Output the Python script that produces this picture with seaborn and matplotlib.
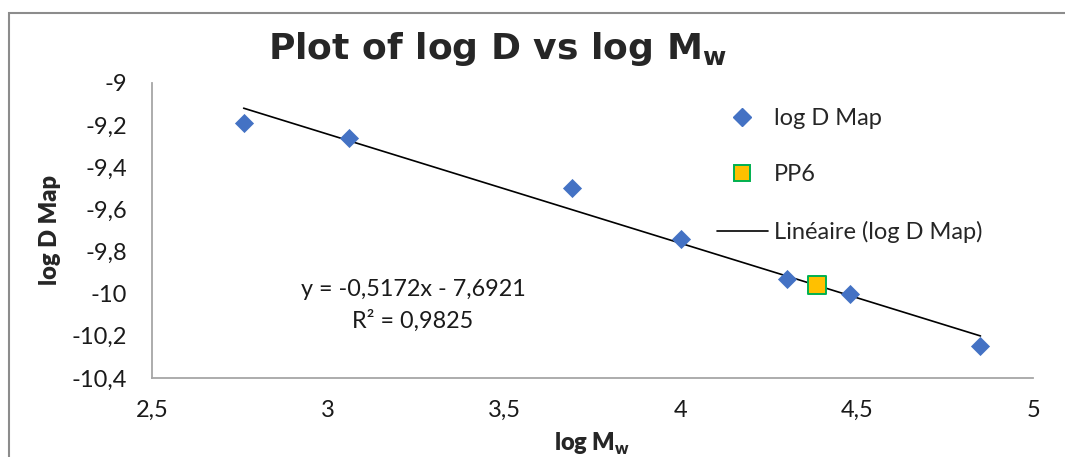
import matplotlib
matplotlib.use("Agg")
import matplotlib.pyplot as plt
from matplotlib.patches import Rectangle
from matplotlib.lines import Line2D
import numpy as np
import pandas as pd
import seaborn as sns

# Measured diffusion data
log_mw = [2.76, 3.06, 3.69, 4.00, 4.30, 4.48, 4.85]
log_d_map = [-9.19, -9.26, -9.50, -9.74, -9.93, -10.00, -10.25]
pp6_x = [4.385]
pp6_y = [-9.96]

# Linear trend (Excel fit)
slope = -0.5172
intercept = -7.6921
r2 = 0.9825

x_ticks = [2.5, 3.0, 3.5, 4.0, 4.5, 5.0]
y_ticks = [-10.4, -10.2, -10.0, -9.8, -9.6, -9.4, -9.2, -9.0]

sns.set_theme(style="white")
plt.rcParams["font.family"] = ["Lato", "DejaVu Sans"]

fig = plt.figure(figsize=(10.65, 4.57), dpi=100)
ax = fig.add_axes([0.1427, 0.1729, 0.8276, 0.6455])

# chart frame
fig.patches.append(Rectangle((9 / 1065, -0.1), 1.2, 1 - 13 / 457 + 0.1,
                             transform=fig.transFigure, fill=False,
                             edgecolor="#8c8c8c", linewidth=1.5, zorder=0))

blue = "#4472C4"
df = pd.DataFrame({"x": log_mw, "y": log_d_map})
trend_x = np.array([min(log_mw), max(log_mw)])
trend = pd.DataFrame({"x": trend_x, "y": slope * trend_x + intercept})

sns.lineplot(data=trend, x="x", y="y", ax=ax, color="black", linewidth=1.2, zorder=2)
sns.scatterplot(data=df, x="x", y="y", ax=ax, marker="D", s=95, color=blue,
                edgecolor=blue, linewidth=0, zorder=3)
sns.scatterplot(x=pp6_x, y=pp6_y, ax=ax, marker="s", s=150, color="#FFC000",
                edgecolor="#00B050", linewidth=1.4, zorder=4)

ax.set_xlim(2.5, 5.0)
ax.set_ylim(-10.4, -9.0)
ax.set_xticks(x_ticks)
ax.set_yticks(y_ticks)


def comma(v):
    s = f"{v:g}"
    return s.replace(".", ",")


ax.set_xticklabels([comma(v) for v in x_ticks], fontsize=17, color="#1a1a1a")
ax.set_yticklabels([comma(v) for v in y_ticks], fontsize=17, color="#1a1a1a")
ax.tick_params(axis="both", length=0)
ax.tick_params(axis="x", pad=16)
ax.tick_params(axis="y", pad=18)

for side in ["top", "right"]:
    ax.spines[side].set_visible(False)
for side in ["left", "bottom"]:
    ax.spines[side].set_color("#a6a6a6")
    ax.spines[side].set_linewidth(1.3)

ax.set_xlabel(r"log M$_\mathregular{w}$", fontsize=17, fontweight="heavy")
ax.xaxis.set_label_coords(0.5, -0.178)
ax.set_ylabel("log D Map", fontsize=17, fontweight="heavy")
ax.yaxis.set_label_coords(-0.103, 0.5)

fig.text(0.467, 0.893, r"Plot of log D vs log M$_\mathregular{w}$", ha="center", va="center",
         fontsize=26, fontweight="bold", family=["DejaVu Sans"])

# regression equation
fig.text(413 / 1065, 1 - 290 / 457, "y = -0,5172x - 7,6921", ha="center", va="center",
         fontsize=16.8, color="#1a1a1a")
fig.text(413 / 1065, 1 - 321 / 457, "R² = 0,9825", ha="center", va="center",
         fontsize=16.8, color="#1a1a1a")

handles = [
    Line2D([], [], marker="D", linestyle="none", color=blue, markersize=9),
    Line2D([], [], marker="s", linestyle="none", markerfacecolor="#FFC000",
           markeredgecolor="#00B050", markeredgewidth=1.4, markersize=11),
    Line2D([], [], color="black", linewidth=1.2),
]
labels = ["log D Map", "PP6", "Linéaire (log D Map)"]
leg = ax.legend(handles, labels, loc="upper left", bbox_to_anchor=(0.617, 0.987),
                frameon=False, fontsize=17, labelspacing=1.5, handlelength=2.15,
                handletextpad=0.25)

fig.savefig("out.png", dpi=100)
